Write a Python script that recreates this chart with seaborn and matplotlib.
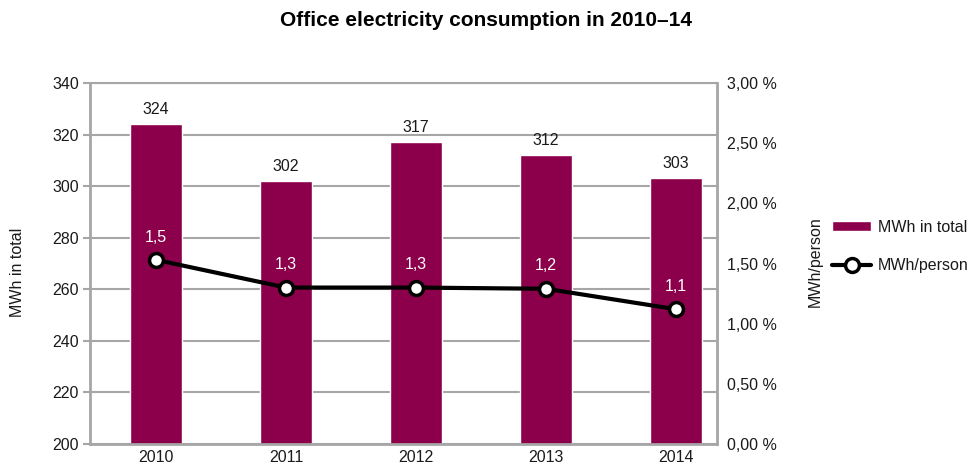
import math
import matplotlib
matplotlib.use("Agg")
import matplotlib.pyplot as plt
import seaborn as sns
import pandas as pd

# Annual totals and per-person figures
years = ["2010", "2011", "2012", "2013", "2014"]
mwh_total = [324, 302, 317, 312, 303]
mwh_per_person = [1.53, 1.30, 1.30, 1.29, 1.12]

left_ticks = [200, 220, 240, 260, 280, 300, 320, 340]
right_ticks = [0.0, 0.5, 1.0, 1.5, 2.0, 2.5, 3.0]

title = "Office electricity consumption in 2010–14"
bar_label = "MWh in total"
line_label = "MWh/person"

BAR_COLOR = "#8c004b"
GRID = "#a6a6a6"
TEXT = "#1a1a1a"
FS = 11.5

sns.set_theme(style="white")
plt.rcParams["font.family"] = ["Liberation Sans", "DejaVu Sans"]

df = pd.DataFrame({"year": years, "total": mwh_total, "per_person": mwh_per_person})

fig = plt.figure(figsize=(9.71, 4.66), dpi=100)
ax = fig.add_axes([90 / 971, 1 - 444 / 466, (717 - 90) / 971, (444 - 83) / 466])

sns.barplot(data=df, x="year", y="total", color=BAR_COLOR, width=0.4,
            saturation=1, ax=ax, label=bar_label, zorder=2)
ax.set_ylim(left_ticks[0], left_ticks[-1])
ax.set_yticks(left_ticks)
ax.set_axisbelow(True)
ax.yaxis.grid(True, color=GRID, linewidth=1.5)
ax.xaxis.grid(False)
ax.set_xlabel("")
ax.set_ylabel("")
ax.tick_params(axis="y", length=5, width=1.5, color=GRID, pad=3, labelsize=FS,
               labelcolor=TEXT, left=True)
ax.tick_params(axis="x", length=0, pad=4, labelsize=FS, labelcolor=TEXT)
for side in ["left", "bottom", "right"]:
    ax.spines[side].set_color(GRID)
    ax.spines[side].set_linewidth(2)
ax.spines["top"].set_color(GRID)
ax.spines["top"].set_linewidth(1.5)
ax.bar_label(ax.containers[0], labels=[str(v) for v in mwh_total],
             padding=5, fontsize=FS, color=TEXT)

ax2 = ax.twinx()
xpos = list(range(len(years)))
sns.lineplot(x=xpos, y=mwh_per_person, ax=ax2, color="black", linewidth=3,
             marker="o", markersize=10, markerfacecolor="white",
             markeredgecolor="black", markeredgewidth=2.5, label=line_label,
             zorder=3)
ax2.set_ylim(right_ticks[0], right_ticks[-1])
ax2.set_yticks(right_ticks)
ax2.set_yticklabels([f"{v:.2f} %".replace(".", ",") for v in right_ticks])
ax2.tick_params(axis="y", length=0, pad=7, labelsize=FS, labelcolor=TEXT)
ax2.set_ylabel("")
ax2.grid(False)
for side in ["left", "bottom", "top", "right"]:
    ax2.spines[side].set_visible(False)
if ax2.get_legend() is not None:
    ax2.get_legend().remove()

for x, v in zip(xpos, mwh_per_person):
    shown = math.floor(v * 10 + 1e-9) / 10
    ax2.annotate(f"{shown:.1f}".replace(".", ","), (x, v), xytext=(0, 11),
                 textcoords="offset points", ha="center", va="bottom",
                 color="white", fontsize=FS)

ax.set_xlim(-0.508, 4.315)
ax2.set_xlim(-0.508, 4.315)

fig.text(486 / 971, 1 - 20 / 466, title, ha="center", va="center",
         fontsize=15, fontweight="bold", color="black")
fig.text(18 / 971, 1 - 272 / 466, "MWh in total", rotation=90,
         ha="center", va="center", fontsize=FS, color=TEXT)
fig.text(815 / 971, 1 - 262 / 466, "MWh/person", rotation=90,
         ha="center", va="center", fontsize=FS, color=TEXT)

h1, l1 = ax.get_legend_handles_labels()
h2, l2 = ax2.get_legend_handles_labels()
if ax.get_legend() is not None:
    ax.get_legend().remove()
fig.legend(h1 + h2, l1 + l2, loc="upper left",
           bbox_to_anchor=(832 / 971, 1 - 220 / 466), frameon=False,
           fontsize=FS, handlelength=2.45, handleheight=0.6, handletextpad=0.4,
           labelspacing=1.45, borderpad=0, borderaxespad=0, numpoints=1,
           labelcolor=TEXT)

fig.savefig("out.png", dpi=100)
